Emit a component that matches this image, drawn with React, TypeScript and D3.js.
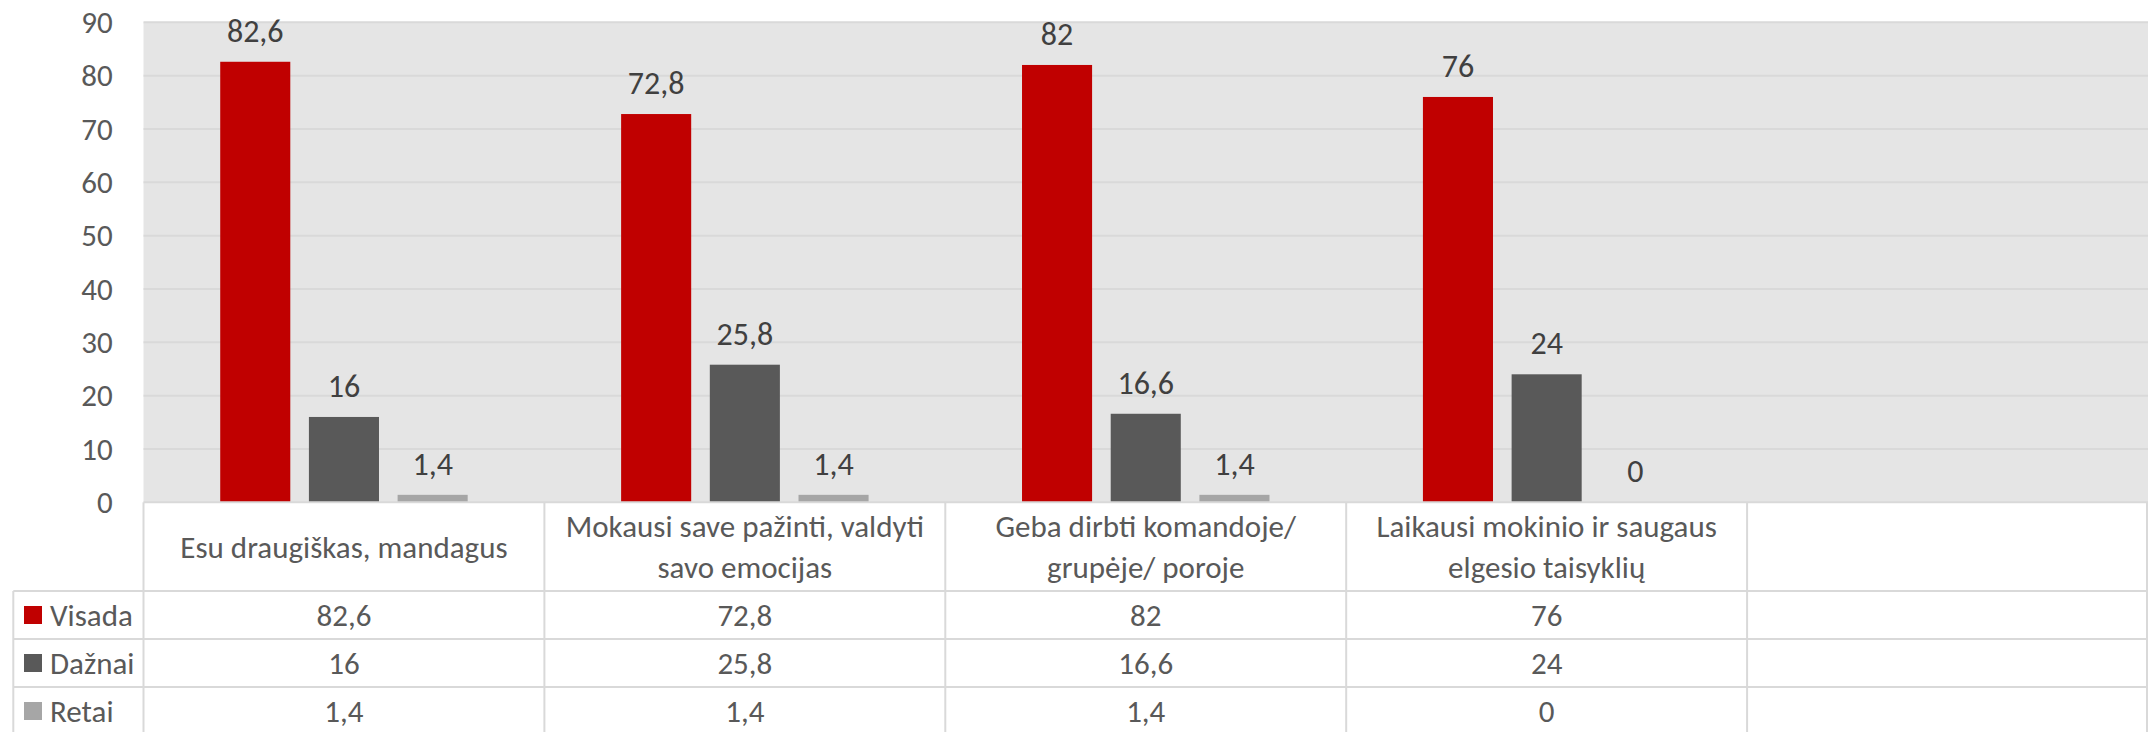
import React, { useEffect, useRef } from 'react'
import * as d3 from 'd3'

const categories: string[][] = [
  ['Esu draugiškas, mandagus'],
  ['Mokausi save pažinti, valdyti', 'savo emocijas'],
  ['Geba dirbti komandoje/', 'grupėje/ poroje'],
  ['Laikausi mokinio ir saugaus', 'elgesio taisyklių'],
  [],
]
const seriesNames = ['Visada', 'Dažnai', 'Retai']
const seriesColors = ['#C00000', '#595959', '#A6A6A6']
const visada = [82.6, 72.8, 82, 76]
const daznai = [16, 25.8, 16.6, 24]
const retai = [1.4, 1.4, 1.4, 0]
const yTicks = [0, 10, 20, 30, 40, 50, 60, 70, 80, 90]

const FONT = "Calibri, Carlito, Lato, 'Open Sans', sans-serif"

const App = () => {
  const ref = useRef<SVGSVGElement>(null)

  useEffect(() => {
    draw()
  })

  const draw = () => {
    const width = 2148
    const height = 732
    const svg = d3.select(ref.current)
    svg.selectAll('*').remove()
    svg.attr('width', width).attr('height', height)

    const plotLeft = 143.5
    const plotRight = 2148
    const plotTop = 22.3
    const baseline = 502.3
    const catRowBottom = 591
    const rowH = 48
    const tableLeft = 13.3
    const gridColor = '#D9D9D9'

    const series = [visada, daznai, retai]
    const idx = categories.map((_, i) => String(i))

    const x0 = d3.scaleBand().domain(idx).range([plotLeft, plotRight]).padding(0)
    const x1 = d3
      .scaleBand()
      .domain(seriesNames)
      .range([0, x0.bandwidth()])
      .paddingInner(0.21)
      .paddingOuter(0.865)
    const y = d3.scaleLinear().domain([0, 90]).range([baseline, plotTop])

    // plot background
    svg
      .append('rect')
      .attr('x', plotLeft)
      .attr('y', plotTop)
      .attr('width', plotRight - plotLeft)
      .attr('height', baseline - plotTop)
      .attr('fill', '#E5E5E5')

    // gridlines
    svg
      .append('g')
      .selectAll('line')
      .data(yTicks.filter((t) => t > 0))
      .enter()
      .append('line')
      .attr('x1', plotLeft)
      .attr('x2', plotRight)
      .attr('y1', (d) => y(d))
      .attr('y2', (d) => y(d))
      .attr('stroke', gridColor)
      .attr('stroke-width', 2)

    // y tick labels
    svg
      .append('g')
      .selectAll('text')
      .data(yTicks)
      .enter()
      .append('text')
      .attr('x', 112.7)
      .attr('y', (d) => y(d))
      .attr('dy', '0.35em')
      .attr('text-anchor', 'end')
      .attr('font-family', FONT)
      .attr('font-size', 31)
      .attr('fill', '#595959')
      .text((d) => d)

    const fmt = (v: number) => String(v).replace('.', ',')

    // bars + labels
    series.forEach((vals, si) => {
      const g = svg.append('g')
      g.selectAll('rect')
        .data(vals)
        .enter()
        .append('rect')
        .attr('x', (_, i) => (x0(String(i)) as number) + (x1(seriesNames[si]) as number))
        .attr('y', (d) => y(d))
        .attr('width', x1.bandwidth())
        .attr('height', (d) => baseline - y(d))
        .attr('fill', seriesColors[si])
      g.selectAll('text')
        .data(vals)
        .enter()
        .append('text')
        .attr('x', (_, i) => (x0(String(i)) as number) + (x1(seriesNames[si]) as number) + x1.bandwidth() / 2)
        .attr('y', (d) => y(d) - 20)
        .attr('text-anchor', 'middle')
        .attr('font-family', FONT)
        .attr('font-size', 32)
        .attr('fill', '#404040')
        .text((d) => fmt(d))
    })

    // table grid
    const t = svg.append('g').attr('stroke', gridColor).attr('stroke-width', 2)
    const hLines = [
      { y: baseline, x1: plotLeft, x2: plotRight },
      { y: catRowBottom, x1: tableLeft, x2: plotRight },
      { y: catRowBottom + rowH, x1: tableLeft, x2: plotRight },
      { y: catRowBottom + 2 * rowH, x1: tableLeft, x2: plotRight },
      { y: catRowBottom + 3 * rowH, x1: tableLeft, x2: plotRight },
    ]
    hLines.forEach((l) => {
      t.append('line').attr('x1', l.x1).attr('x2', l.x2).attr('y1', l.y).attr('y2', l.y)
    })
    t.append('line').attr('x1', tableLeft).attr('x2', tableLeft).attr('y1', catRowBottom).attr('y2', height)
    idx.forEach((c) => {
      const xx = x0(c) as number
      t.append('line').attr('x1', xx).attr('x2', xx).attr('y1', baseline).attr('y2', height)
    })
    t.append('line').attr('x1', plotRight - 1).attr('x2', plotRight - 1).attr('y1', baseline).attr('y2', height)

    // category labels
    const catCenter = (baseline + catRowBottom) / 2
    const lineGap = 41
    categories.forEach((lines, i) => {
      const cx = (x0(String(i)) as number) + x0.bandwidth() / 2
      const start = catCenter - ((lines.length - 1) * lineGap) / 2
      const txt = svg
        .append('text')
        .attr('text-anchor', 'middle')
        .attr('font-family', FONT)
        .attr('font-size', 31)
        .attr('fill', '#595959')
      lines.forEach((ln, li) => {
        txt
          .append('tspan')
          .attr('x', cx)
          .attr('y', start + li * lineGap)
          .attr('dy', '0.35em')
          .text(ln)
      })
    })

    // table rows: legend + values
    series.forEach((vals, si) => {
      const cy = catRowBottom + si * rowH + rowH / 2
      svg
        .append('rect')
        .attr('x', 24)
        .attr('y', cy - 9)
        .attr('width', 18)
        .attr('height', 18)
        .attr('fill', seriesColors[si])
      svg
        .append('text')
        .attr('x', 50)
        .attr('y', cy)
        .attr('dy', '0.35em')
        .attr('font-family', FONT)
        .attr('font-size', 31)
        .attr('fill', '#595959')
        .text(seriesNames[si])
      svg
        .append('g')
        .selectAll('text')
        .data(vals)
        .enter()
        .append('text')
        .attr('x', (_, i) => (x0(String(i)) as number) + x0.bandwidth() / 2)
        .attr('y', cy)
        .attr('dy', '0.35em')
        .attr('text-anchor', 'middle')
        .attr('font-family', FONT)
        .attr('font-size', 31)
        .attr('fill', '#595959')
        .text((d) => fmt(d))
    })
  }

  return (
    <svg
      ref={ref}
      style={{ position: 'absolute', left: 0, top: 0, display: 'block', background: '#fff' }}
    />
  )
}

export default App
